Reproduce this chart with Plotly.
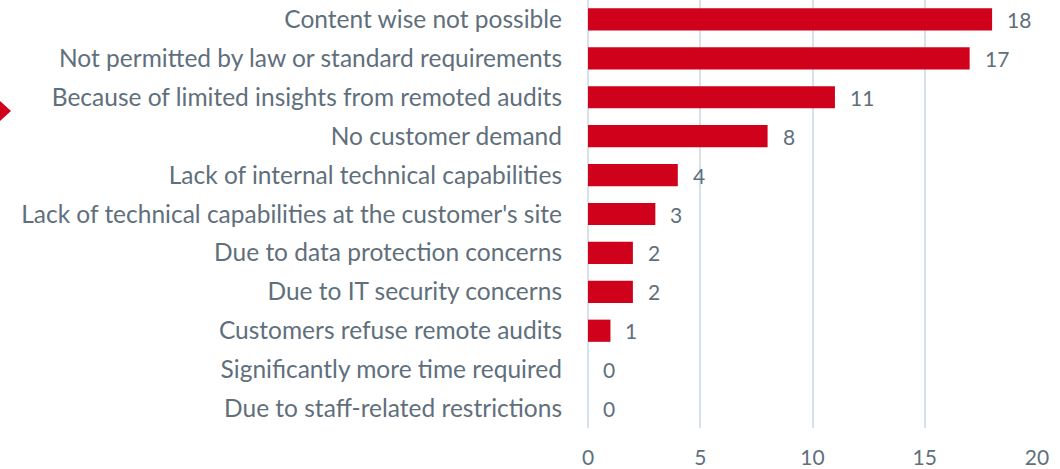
import plotly.graph_objects as go

categories = [
    "Content wise not possible",
    "Not permitted by law or standard requirements",
    "Because of limited insights from remoted audits",
    "No customer demand",
    "Lack of internal technical capabilities",
    "Lack of technical capabilities at the customer's site",
    "Due to data protection concerns",
    "Due to IT security concerns",
    "Customers refuse remote audits",
    "Significantly more time required",
    "Due to staff-related restrictions",
]
values = [18, 17, 11, 8, 4, 3, 2, 2, 1, 0, 0]
tick_vals = [0, 5, 10, 15, 20]

W, H = 1060, 469
ML, MR, MT, MB = 588, 23, 0, 41
TEXT = "#5f6f7c"
RED = "#d0021b"
GRID = "#d8e1e7"
FONT = "Lato"


def px_to_paper(px, py):
    pw = W - ML - MR
    ph = H - MT - MB
    return (px - ML) / pw, (H - MB - py) / ph


fig = go.Figure(
    go.Bar(
        x=values,
        y=categories,
        orientation="h",
        marker=dict(color=RED, line=dict(width=0)),
        width=0.57,
        hoverinfo="x+y",
    )
)

for c, v in zip(categories, values):
    fig.add_annotation(
        x=v, y=c, text=str(v), showarrow=False, xanchor="left", xshift=13,
        font=dict(family=FONT, size=21, color=TEXT),
    )

# decorative triangle at left edge
p = [px_to_paper(-1, 100), px_to_paper(11, 111), px_to_paper(-1, 122)]
fig.add_shape(
    type="path", xref="paper", yref="paper",
    path=f"M{p[0][0]},{p[0][1]} L{p[1][0]},{p[1][1]} L{p[2][0]},{p[2][1]} Z",
    fillcolor=RED, line=dict(width=0),
)

fig.update_layout(
    width=W, height=H,
    margin=dict(l=ML, r=MR, t=MT, b=MB),
    paper_bgcolor="white", plot_bgcolor="white",
    font=dict(family=FONT, size=21, color=TEXT),
    showlegend=False,
)
fig.update_xaxes(
    range=[0, 20], tickvals=tick_vals, showgrid=True, gridcolor=GRID, gridwidth=1.5,
    zeroline=True, zerolinecolor=GRID, zerolinewidth=1.5, showline=False,
    ticks="", ticklabelstandoff=15, tickfont=dict(family=FONT, size=21, color=TEXT),
)
fig.update_yaxes(
    autorange="reversed", showgrid=False, showline=False, ticks="",
    ticklabelstandoff=25, tickfont=dict(family=FONT, size=24.5, color=TEXT),
)

fig.write_html(
    "out.html",
    config={"displayModeBar": False},
    post_script="document.body.style.margin='0';",
)
